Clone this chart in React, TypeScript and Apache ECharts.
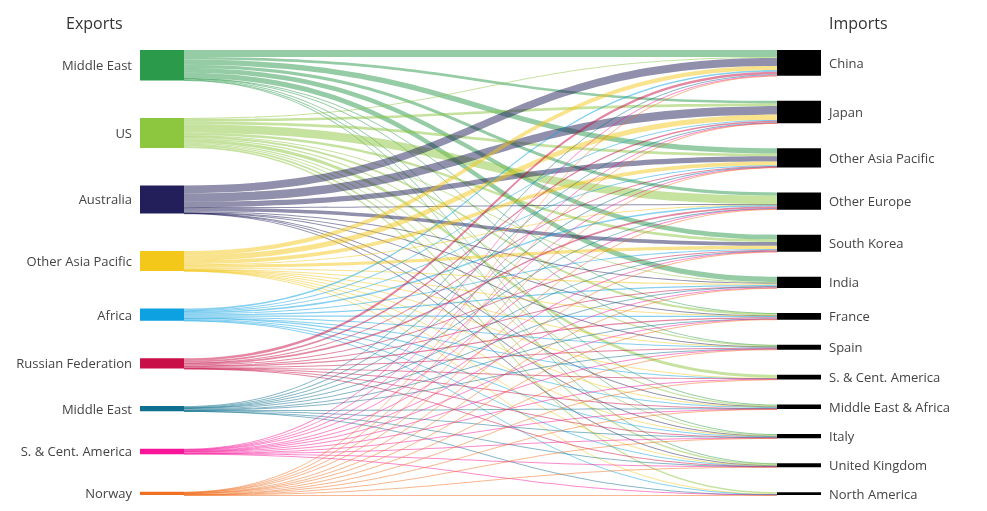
import React, { useEffect, useRef } from 'react';
import * as echarts from 'echarts';

const exporters = ['Middle East', 'US', 'Australia', 'Other Asia Pacific', 'Africa', 'Russian Federation', 'Middle East', 'S. & Cent. America', 'Norway'];
const exporterColors = ['#2b9a4b', '#8dc63f', '#221f5a', '#f3c81b', '#0ea1e2', '#c80f48', '#0e6f8e', '#f8159a', '#f26f22'];
const importers = ['China', 'Japan', 'Other Asia Pacific', 'Other Europe', 'South Korea', 'India', 'France', 'Spain', 'S. & Cent. America', 'Middle East & Africa', 'Italy', 'United Kingdom', 'North America'];

// Flow values: one array per exporter, in the order of `importers`
const fromMiddleEast = [6.5, 2.5, 5, 3, 4.5, 5, 0.3, 0.3, 0, 0.8, 0.5, 0.3, 0];
const fromUS = [1, 2.5, 2.5, 8, 2.5, 0.7, 2, 1.2, 3, 1, 1, 1.5, 1.5];
const fromAustralia = [7.5, 8, 5, 0.3, 3.5, 1, 0.2, 0.2, 0, 0.3, 0.3, 0.2, 0];
const fromOtherAsiaPacific = [4, 5, 3.5, 0.5, 3, 1, 0.3, 0.3, 0.3, 0.3, 0.2, 0.3, 0.3];
const fromAfrica = [1.5, 0.8, 0.8, 1.5, 0.8, 1.2, 1.2, 0.8, 0.3, 1, 0.8, 0.5, 0.3];
const fromRussia = [2.5, 1.5, 0.5, 1.5, 0.8, 0.3, 1.2, 0.7, 0.2, 0.2, 0.2, 0.1, 0];
const fromMiddleEast2 = [0.8, 0.4, 0.4, 0.3, 0.5, 1, 0.2, 0.2, 0, 0.4, 0.5, 0.1, 0.1];
const fromSCAmerica = [0.4, 0.3, 0.3, 0.6, 0.3, 0.3, 0.5, 0.6, 0.6, 0.3, 0.2, 0.4, 0.4];
const fromNorway = [0.2, 0.2, 0.1, 0.6, 0.2, 0.1, 0.5, 0.4, 0.1, 0.1, 0.2, 0.3, 0.1];

const flows = [fromMiddleEast, fromUS, fromAustralia, fromOtherAsiaPacific, fromAfrica, fromRussia, fromMiddleEast2, fromSCAmerica, fromNorway];

export default function App() {
  const ref = useRef<HTMLDivElement>(null);
  useEffect(() => {
    if (!ref.current) return;
    const chart = echarts.init(ref.current, null, { renderer: 'svg' });

    const Hpx = 511;
    const top = 50, bottom = 16, left = 140, right = 166;
    const H = Hpx - top - bottom;
    const gap = 25;

    const total = flows.reduce((s, r) => s + r.reduce((a, b) => a + b, 0), 0);
    const expTotals = flows.map(r => r.reduce((a, b) => a + b, 0));
    const ky = Math.min((H - (importers.length - 1) * gap) / total, (H - (exporters.length - 1) * gap) / total);
    const leftHeights = expTotals.map(v => v * ky);
    const leftGap = (H - leftHeights.reduce((a, b) => a + b, 0)) / (exporters.length - 1);

    const labelMap: Record<string, string> = {};
    const labelFont = { fontFamily: 'Open Sans', fontSize: 13, color: '#444' };
    let acc = 0;
    const nodes: any[] = [];
    exporters.forEach((n, i) => {
      const id = 'e' + i;
      labelMap[id] = n;
      nodes.push({
        name: id,
        localY: acc / H,
        itemStyle: { color: exporterColors[i], borderWidth: 0 },
        label: { position: 'left', distance: 8, ...labelFont },
      });
      acc += leftHeights[i] + leftGap;
    });
    importers.forEach((n, j) => {
      const id = 'i' + j;
      labelMap[id] = n;
      nodes.push({
        name: id,
        itemStyle: { color: '#000000', borderWidth: 0 },
        label: { position: 'right', distance: 8, ...labelFont },
      });
    });

    const links: any[] = [];
    flows.forEach((row, i) => {
      row.forEach((v, j) => {
        if (v > 0) {
          links.push({
            source: 'e' + i,
            target: 'i' + j,
            value: v,
            lineStyle: { color: exporterColors[i], opacity: 0.5 },
          });
        }
      });
    });

    const titleStyle = { fontFamily: 'Open Sans', fontSize: 16, fontWeight: 'normal', color: '#333' };
    chart.setOption({
      animation: false,
      title: [
        { text: 'Exports', left: 61, top: 10, textStyle: titleStyle },
        { text: 'Imports', left: 824, top: 10, textStyle: titleStyle },
      ],
      series: [
        {
          type: 'sankey',
          left, right, top, bottom,
          nodeWidth: 44,
          nodeGap: gap,
          layoutIterations: 0,
          draggable: false,
          emphasis: { disabled: true },
          label: {
            formatter: (p: any) => labelMap[p.name] ?? p.name,
          },
          lineStyle: { curveness: 0.5 },
          data: nodes,
          links,
        },
      ],
    });
    return () => chart.dispose();
  }, []);
  return <div ref={ref} style={{ position: 'fixed', left: 0, top: 0, width: 987, height: 511 }} />;
}
